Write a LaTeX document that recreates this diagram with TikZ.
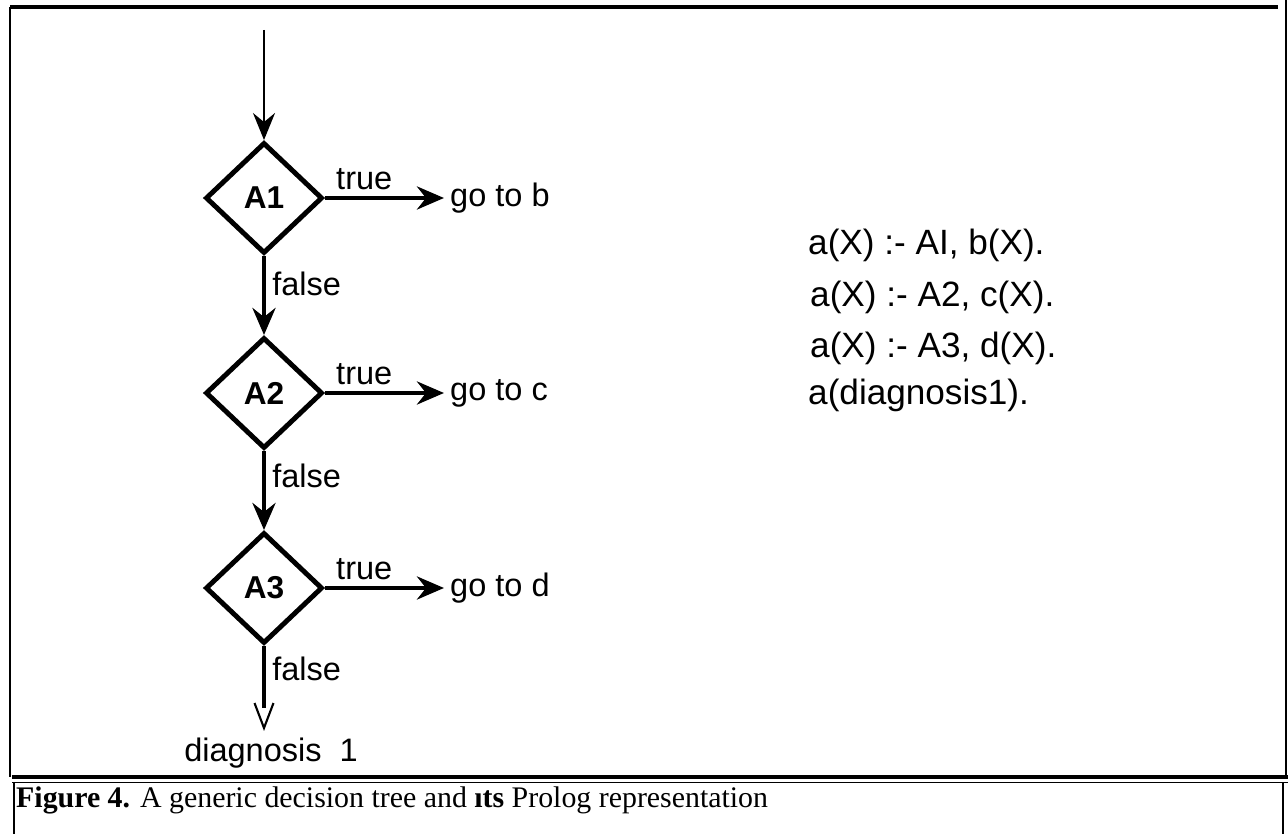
\documentclass[tikz,border=0pt]{standalone}
\usepackage{fontspec}
\setmainfont{Liberation Serif}
\setsansfont{Liberation Sans}
\usetikzlibrary{shapes.geometric,arrows.meta}

\begin{document}
\begin{tikzpicture}[
  cond/.style={diamond, draw, line width=2.8pt, minimum width=2.34cm, minimum height=2.22cm, inner sep=0pt, font=\sffamily\bfseries\fontsize{18}{21}\selectfont},
  lbl/.style={font=\sffamily\fontsize{18.5}{22}\selectfont},
  rule/.style={font=\sffamily\fontsize{20}{24}\selectfont, anchor=west},
  flow/.style={line width=2.8pt, -{Stealth[length=5.4mm, width=4.6mm, inset=1.8mm]}},
  entry/.style={line width=1.4pt, -{Stealth[length=5.4mm, width=4.4mm, inset=1.8mm]}}
]
\useasboundingbox (0,0) rectangle (25.76,16.68);
% frame round the figure
\draw[line width=2pt](0.2,16.54) -- (25.56,16.54);
\draw[line width=1.4pt](0.2,16.54) -- (0.2,1.14);
\draw[line width=1.1pt](25.72,16.68) -- (25.72,1.1);
\draw[line width=2.3pt](0.24,1.14) -- (25.76,1.14);
\draw[line width=1.1pt](0.24,1.03) -- (25.76,1.03);
\draw[line width=1.1pt](0.28,1.03) -- (0.28,0);
\draw[line width=0.8pt](25.66,1.03) -- (25.66,0);
% decision tree
\coordinate (start) at (5.28,16.08);
\node at (5.28,12.72) [cond] (a1) {A1};
\node at (5.28,8.82) [cond] (a2) {A2};
\node at (5.28,4.92) [cond] (a3) {A3};
\coordinate (end) at (5.28,2.52);
\node at (8.88,12.72) [lbl, anchor=west] (gob) {go to b};
\node at (8.88,8.82) [lbl, anchor=west] (goc) {go to c};
\node at (8.88,4.92) [lbl, anchor=west] (god) {go to d};
\draw[entry](start) -- (a1);
\draw[flow](a1) -- node[lbl, above, pos=0.33]{true} (gob);
\draw[flow](a2) -- node[lbl, above, pos=0.33]{true} (goc);
\draw[flow](a3) -- node[lbl, above, pos=0.33]{true} (god);
\draw[flow](a1) -- node[lbl, right, pos=0.35]{false} (a2);
\draw[flow](a2) -- node[lbl, right, pos=0.32]{false} (a3);
\draw[line width=2.8pt](a3) -- node[lbl, right, pos=0.37]{false} (end);
\draw[line width=1.2pt](end) ++(-0.19,0.1) -- ++(0.19,-0.5) -- ++(0.19,0.5);
\node at (5.42,1.62) [lbl] (diag) {diagnosis~~1};
% prolog clauses
\node at (16.04,11.78) [rule] (r1) {a(X) :- AI, b(X).};
\node at (16.08,10.74) [rule] (r2) {a(X) :- A2, c(X).};
\node at (16.08,9.72) [rule] (r3) {a(X) :- A3, d(X).};
\node at (16.04,8.78) [rule] (r4) {a(diagnosis1).};
% caption
\node at (0.2,0.68) [anchor=west, font=\fontsize{17}{20}\selectfont] (cap) {\textbf{Figure 4.} A generic decision tree and \textbf{ıts} Prolog representation};
\end{tikzpicture}
\end{document}
